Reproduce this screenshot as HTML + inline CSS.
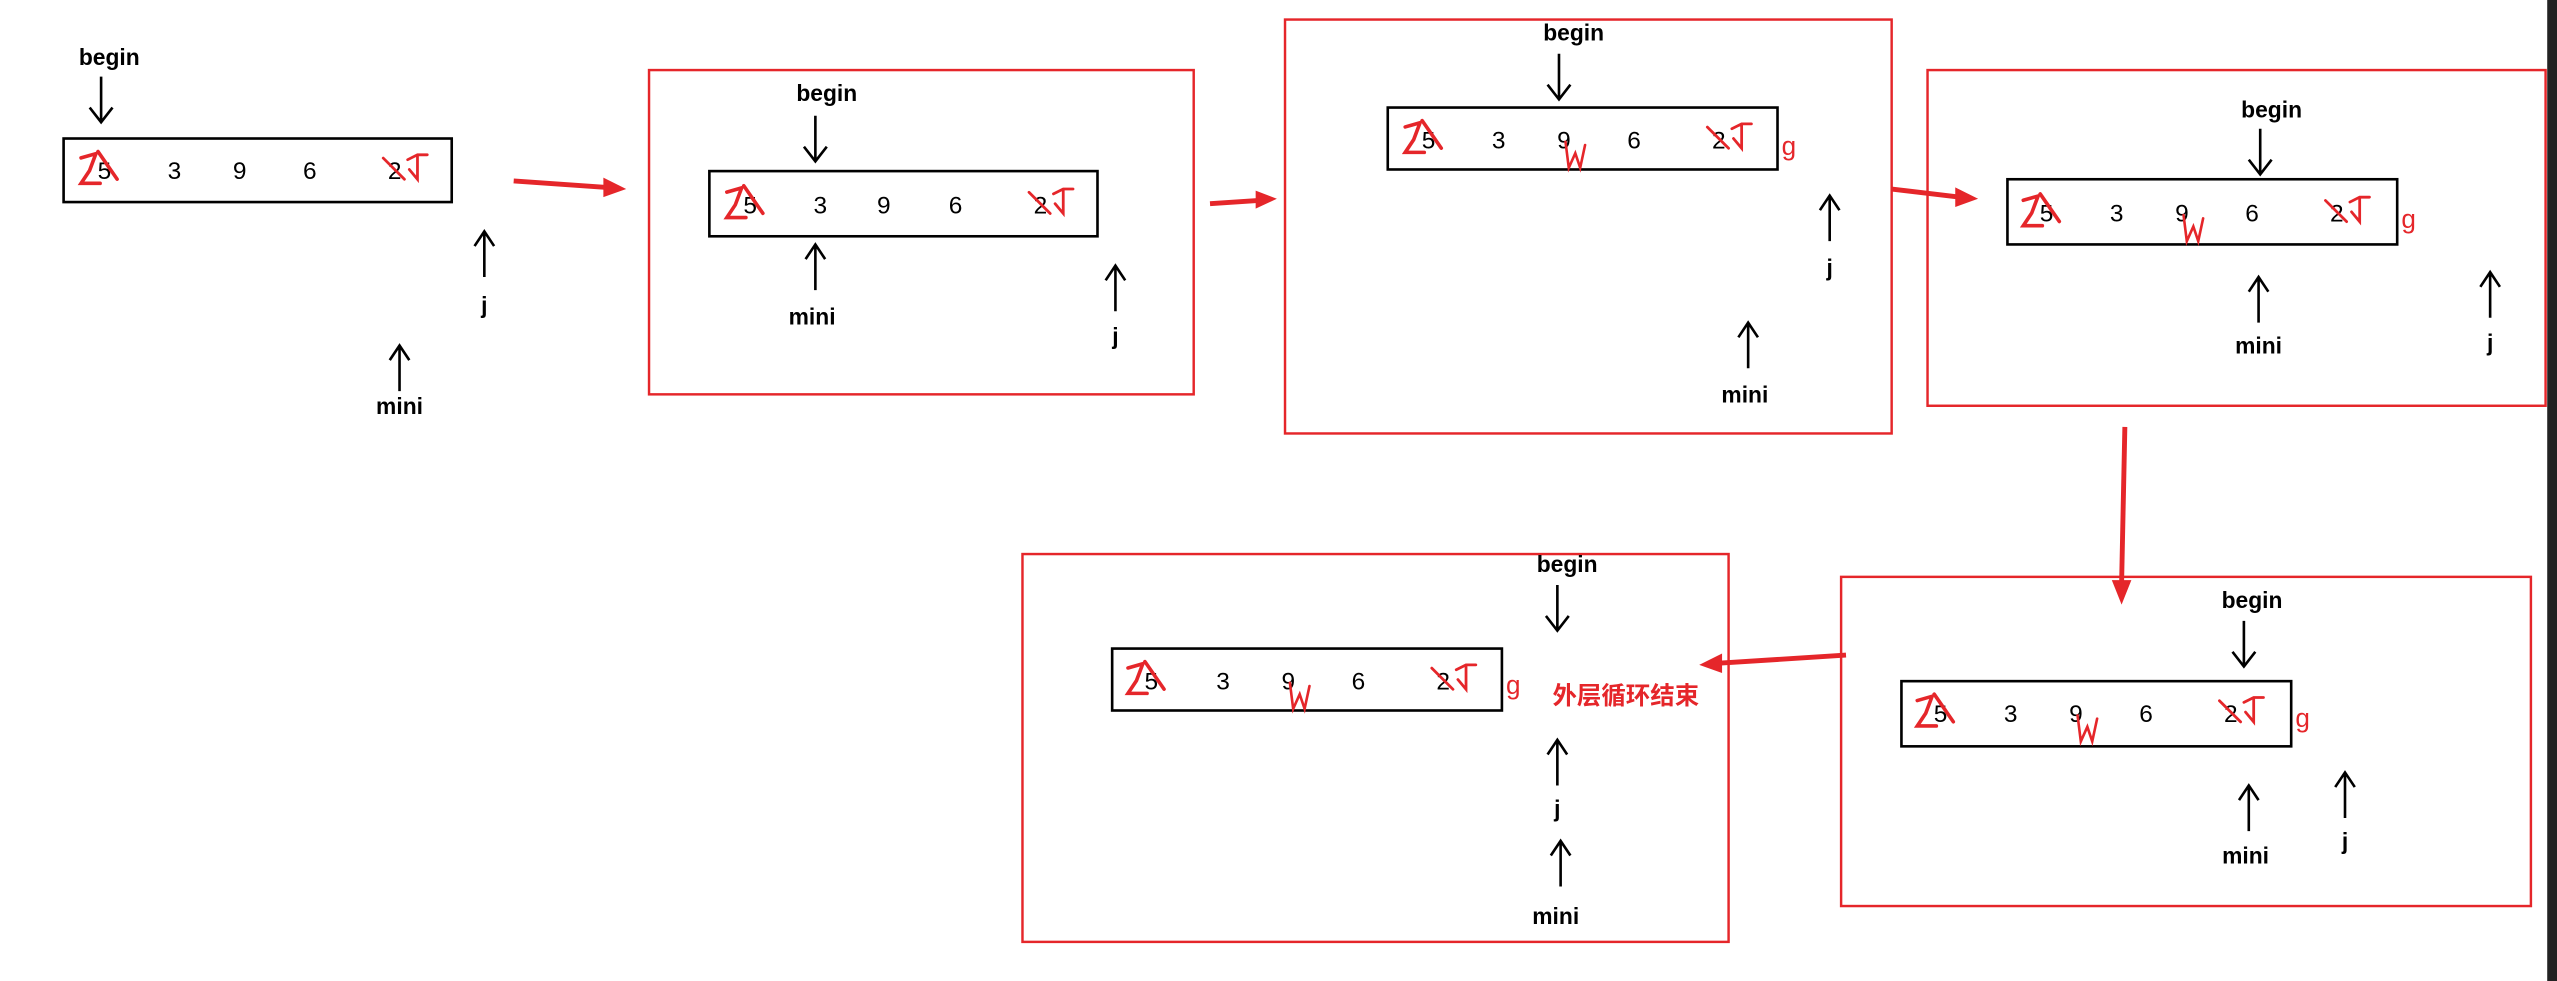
<!DOCTYPE html>
<html><head><meta charset="utf-8"><style>
html,body{margin:0;padding:0;background:#fff;}
svg{display:block}
text{font-family:"Liberation Sans","Noto Sans CJK SC",sans-serif;}
</style></head><body>
<svg width="2557" height="981" viewBox="0 0 1568 602" preserveAspectRatio="none" xmlns="http://www.w3.org/2000/svg">
<defs>
<g id="m5" fill="none" stroke="#e5262a" stroke-width="1.7" stroke-linecap="round" transform="scale(1.3)">
<path d="M-11,-7 L-4,-9 L-7,-1 L-11,5 L-2,5"/><path d="M-3,-10 L6,3"/>
</g>
<g id="m2" fill="none" stroke="#e5262a" stroke-width="1.7" stroke-linecap="round">
<path d="M-7,-9 L6,4"/><path d="M8,-8 L14,-11 L20,-11 M14,-10 L14,4 L9,-2"/>
</g>
<g id="mw" fill="none" stroke="#e5262a" stroke-width="1.6" stroke-linecap="round">
<path d="M-4,-5 L-2,11 L2,2 L5,11 L8,-3"/>
</g>
<g id="up" stroke="#000" stroke-width="1.6" fill="none"><path d="M0,0 L0,-28 M-6,-19 L0,-28 L6,-19"/></g>
<g id="dn" stroke="#000" stroke-width="1.6" fill="none"><path d="M0,0 L0,28 M-7,19 L0,28 L7,19"/></g>
</defs>
<rect width="1568" height="602" fill="#fff"/>
<rect x="1562" y="0" width="6" height="602" fill="#222"/>
<g font-size="15" fill="#000">
<!-- panel 0 -->
<text x="67" y="40" text-anchor="middle" font-weight="bold" font-size="14">begin</text>
<use href="#dn" x="62" y="47"/>
<rect x="39" y="85" width="238" height="39" fill="none" stroke="#000" stroke-width="1.6"/>
<text x="64" y="110" text-anchor="middle">5</text><text x="107" y="110" text-anchor="middle">3</text><text x="147" y="110" text-anchor="middle">9</text><text x="190" y="110" text-anchor="middle">6</text><text x="242" y="110" text-anchor="middle">2</text>
<use href="#m5" x="64" y="106"/><use href="#m2" x="242" y="106"/>
<use href="#up" x="297" y="170"/><text x="297" y="192" text-anchor="middle" font-weight="bold" font-size="14">j</text>
<use href="#up" x="245" y="240"/><text x="245" y="254" text-anchor="middle" font-weight="bold" font-size="14">mini</text>
<path d="M315,111 L372,115" stroke="#e5262a" stroke-width="3"/><path d="M370,109 L384,116 L370,121Z" fill="#e5262a"/>
<!-- frame 1 -->
<rect x="398" y="43" width="334" height="199" fill="none" stroke="#e5262a" stroke-width="1.5"/>
<text x="507" y="62" text-anchor="middle" font-weight="bold" font-size="14">begin</text>
<use href="#dn" x="500" y="71"/>
<rect x="435" y="105" width="238" height="40" fill="none" stroke="#000" stroke-width="1.6"/>
<text x="460" y="131" text-anchor="middle">5</text><text x="503" y="131" text-anchor="middle">3</text><text x="542" y="131" text-anchor="middle">9</text><text x="586" y="131" text-anchor="middle">6</text><text x="638" y="131" text-anchor="middle">2</text>
<use href="#m5" x="460" y="127"/><use href="#m2" x="638" y="127"/>
<use href="#up" x="500" y="178"/><text x="498" y="199" text-anchor="middle" font-weight="bold" font-size="14">mini</text>
<use href="#up" x="684" y="191"/><text x="684" y="211" text-anchor="middle" font-weight="bold" font-size="14">j</text>
<path d="M742,125 L772,123" stroke="#e5262a" stroke-width="3"/><path d="M770,117 L783,122 L770,128Z" fill="#e5262a"/>
<!-- frame 2 -->
<rect x="788" y="12" width="372" height="254" fill="none" stroke="#e5262a" stroke-width="1.5"/>
<text x="965" y="25" text-anchor="middle" font-weight="bold" font-size="14">begin</text>
<use href="#dn" x="956" y="33"/>
<rect x="851" y="66" width="239" height="38" fill="none" stroke="#000" stroke-width="1.6"/>
<text x="876" y="91" text-anchor="middle">5</text><text x="919" y="91" text-anchor="middle">3</text><text x="959" y="91" text-anchor="middle">9</text><text x="1002" y="91" text-anchor="middle">6</text><text x="1054" y="91" text-anchor="middle">2</text>
<use href="#m5" x="876" y="87"/><use href="#m2" x="1054" y="87"/><use href="#mw" x="964" y="92"/>
<text x="1097" y="95" text-anchor="middle" fill="#e5262a" font-size="16">g</text>
<use href="#up" x="1122" y="148"/><text x="1122" y="169" text-anchor="middle" font-weight="bold" font-size="14">j</text>
<use href="#up" x="1072" y="226"/><text x="1070" y="247" text-anchor="middle" font-weight="bold" font-size="14">mini</text>
<path d="M1160,116 L1202,121" stroke="#e5262a" stroke-width="3"/><path d="M1199,115 L1213,122 L1199,127Z" fill="#e5262a"/>
<!-- frame 3 -->
<rect x="1182" y="43" width="379" height="206" fill="none" stroke="#e5262a" stroke-width="1.5"/>
<text x="1393" y="72" text-anchor="middle" font-weight="bold" font-size="14">begin</text>
<use href="#dn" x="1386" y="79"/>
<rect x="1231" y="110" width="239" height="40" fill="none" stroke="#000" stroke-width="1.6"/>
<text x="1255" y="136" text-anchor="middle">5</text><text x="1298" y="136" text-anchor="middle">3</text><text x="1338" y="136" text-anchor="middle">9</text><text x="1381" y="136" text-anchor="middle">6</text><text x="1433" y="136" text-anchor="middle">2</text>
<use href="#m5" x="1255" y="132"/><use href="#m2" x="1433" y="132"/><use href="#mw" x="1343" y="137"/>
<text x="1477" y="140" text-anchor="middle" fill="#e5262a" font-size="16">g</text>
<use href="#up" x="1385" y="198"/><text x="1385" y="217" text-anchor="middle" font-weight="bold" font-size="14">mini</text>
<use href="#up" x="1527" y="195"/><text x="1527" y="215" text-anchor="middle" font-weight="bold" font-size="14">j</text>
<path d="M1303,262 L1301,358" stroke="#e5262a" stroke-width="3"/><path d="M1295,356 L1301,371 L1307,356Z" fill="#e5262a"/>
<!-- frame 4 -->
<rect x="1129" y="354" width="423" height="202" fill="none" stroke="#e5262a" stroke-width="1.5"/>
<text x="1381" y="373" text-anchor="middle" font-weight="bold" font-size="14">begin</text>
<use href="#dn" x="1376" y="381"/>
<rect x="1166" y="418" width="239" height="40" fill="none" stroke="#000" stroke-width="1.6"/>
<text x="1190" y="443" text-anchor="middle">5</text><text x="1233" y="443" text-anchor="middle">3</text><text x="1273" y="443" text-anchor="middle">9</text><text x="1316" y="443" text-anchor="middle">6</text><text x="1368" y="443" text-anchor="middle">2</text>
<use href="#m5" x="1190" y="439"/><use href="#m2" x="1368" y="439"/><use href="#mw" x="1278" y="444"/>
<text x="1412" y="446" text-anchor="middle" fill="#e5262a" font-size="16">g</text>
<use href="#up" x="1379" y="510"/><text x="1377" y="530" text-anchor="middle" font-weight="bold" font-size="14">mini</text>
<use href="#up" x="1438" y="502"/><text x="1438" y="521" text-anchor="middle" font-weight="bold" font-size="14">j</text>
<path d="M1132,402 L1054,407" stroke="#e5262a" stroke-width="3"/><path d="M1056,401 L1042,408 L1056,413Z" fill="#e5262a"/>
<!-- frame 5 -->
<rect x="627" y="340" width="433" height="238" fill="none" stroke="#e5262a" stroke-width="1.5"/>
<text x="961" y="351" text-anchor="middle" font-weight="bold" font-size="14">begin</text>
<use href="#dn" x="955" y="359"/>
<rect x="682" y="398" width="239" height="38" fill="none" stroke="#000" stroke-width="1.6"/>
<text x="706" y="423" text-anchor="middle">5</text><text x="750" y="423" text-anchor="middle">3</text><text x="790" y="423" text-anchor="middle">9</text><text x="833" y="423" text-anchor="middle">6</text><text x="885" y="423" text-anchor="middle">2</text>
<use href="#m5" x="706" y="419"/><use href="#m2" x="885" y="419"/><use href="#mw" x="795" y="424"/>
<text x="928" y="426" text-anchor="middle" fill="#e5262a" font-size="16">g</text>
<text x="952" y="432" fill="#e5262a" font-weight="bold" font-size="15">外层循环结束</text>
<use href="#up" x="955" y="482"/><text x="955" y="501" text-anchor="middle" font-weight="bold" font-size="14">j</text>
<use href="#up" x="957" y="544"/><text x="954" y="567" text-anchor="middle" font-weight="bold" font-size="14">mini</text>
</g>
</svg>
</body></html>
